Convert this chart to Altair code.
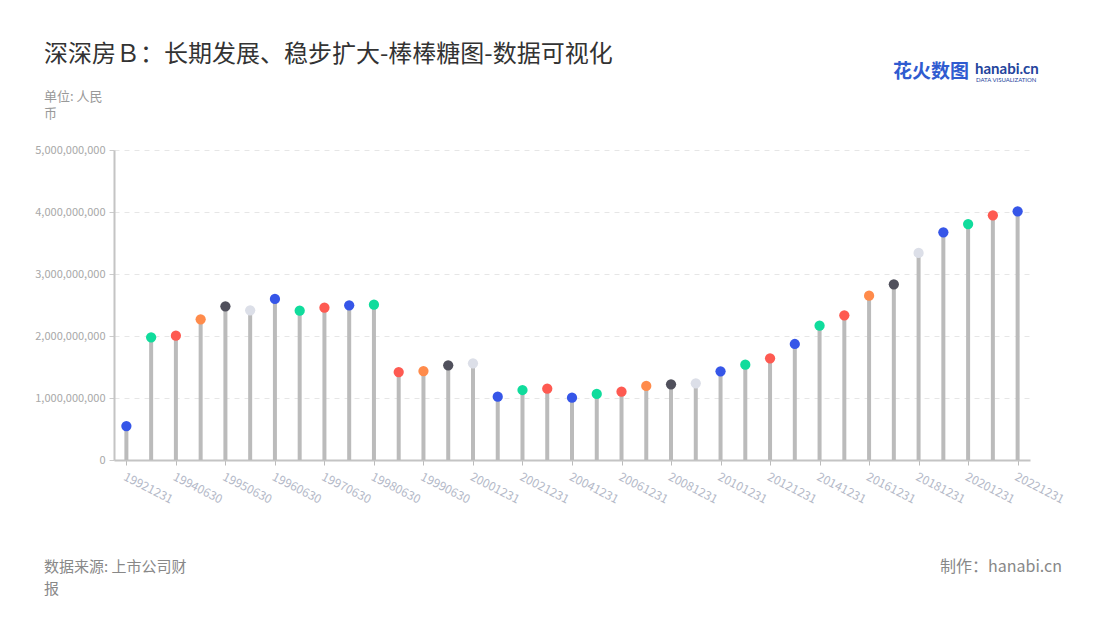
import altair as alt
import pandas as pd

categories = ["19921231", "19931231", "19940630", "19941231", "19950630", "19951231",
              "19960630", "19961231", "19970630", "19971231", "19980630", "19981231",
              "19990630", "19991231", "20001231", "20011231", "20021231", "20031231",
              "20041231", "20051231", "20061231", "20071231", "20081231", "20091231",
              "20101231", "20111231", "20121231", "20131231", "20141231", "20151231",
              "20161231", "20171231", "20181231", "20191231", "20201231", "20211231",
              "20221231"]
values = [548e6, 1979e6, 2005e6, 2270e6, 2479e6, 2414e6, 2597e6, 2409e6, 2457e6,
          2495e6, 2505e6, 1419e6, 1435e6, 1527e6, 1559e6, 1021e6, 1129e6, 1151e6,
          1005e6, 1065e6, 1102e6, 1194e6, 1221e6, 1237e6, 1430e6, 1538e6, 1640e6,
          1871e6, 2167e6, 2333e6, 2651e6, 2833e6, 3339e6, 3672e6, 3806e6, 3946e6,
          4011e6]
palette = ["#3656e8", "#10dc9c", "#fe5a51", "#ff8b4b", "#50505c", "#dcdfe8",
           "#3656e8", "#10dc9c", "#fe5a51"]
tick_labels = categories[::2]

df = pd.DataFrame({"date": categories, "value": values,
                   "cidx": [str(i % len(palette)) for i in range(len(categories))]})

FONT = "Noto Sans CJK SC"
W, H = 916, 310

xscale = alt.Scale(type="point", padding=0.5)
xenc = alt.X("date:N", sort=categories, scale=xscale,
             axis=alt.Axis(values=tick_labels, labelAngle=27, labelAlign="left",
                           labelBaseline="top", labelPadding=6, labelColor="#b4b9c8",
                           labelFontSize=12, labelFont=FONT, tickColor="#bbbbbb",
                           tickSize=5, domainColor="#c4c4c4", domainWidth=2,
                           title=None, grid=False, labelOverlap=False))
yenc = alt.Y("value:Q", scale=alt.Scale(domain=[0, 5e9], nice=False),
             axis=alt.Axis(values=[0, 1e9, 2e9, 3e9, 4e9, 5e9], format=",d",
                           labelColor="#a8a8a8", labelFontSize=11, labelFont=FONT,
                           tickColor="#cccccc", tickSize=5, domainColor="#c4c4c4",
                           domainWidth=2, gridColor="#e6e6e6", gridDash=[5, 5],
                           title=None, labelPadding=4))

base = alt.Chart(df)
stems = base.mark_rule(strokeWidth=4, color="#bbbbbb").encode(
    x=xenc, y=yenc, y2=alt.datum(0))
dots = base.mark_circle(size=105, opacity=1).encode(
    x=alt.X("date:N", sort=categories, scale=xscale),
    y="value:Q",
    color=alt.Color("cidx:N", scale=alt.Scale(domain=[str(i) for i in range(len(palette))],
                                              range=palette), legend=None))

one = pd.DataFrame({"k": [0]})

def txt(text, x, y, size, color, align="left", weight="normal", baseline="middle",
        font=FONT, lh=None):
    return alt.Chart(one).mark_text(text=text, align=align, baseline=baseline,
                                    fontSize=size, color=color, fontWeight=weight,
                                    font=font, lineBreak="\n",
                                    lineHeight=lh if lh else size + 4).encode(
        x=alt.value(x), y=alt.value(y))

title = txt("深深房Ｂ：长期发展、稳步扩大-棒棒糖图-数据可视化", -70, -95, 24, "#333333")
unit = txt("单位: 人民\n币", -70, -53, 13, "#999999", lh=17)
src = txt("数据来源: 上市公司财\n报", -70, 417, 15, "#888888", lh=22)
maker = txt("制作：hanabi.cn", 948, 417, 16, "#888888", align="right")
logo1 = txt("花火数图", 779, -78, 19, "#2f5bd0", weight="bold")
logo2 = txt("hanabi.cn", 861, -81, 15, "#24449c", weight="bold", font="Lato")
logo3 = txt("DATA VISUALIZATION", 862, -70, 6, "#24449c", font="Lato")

chart = alt.layer(stems, dots, title, unit, src, maker, logo1, logo2, logo3).properties(
    width=W, height=H,
    autosize=alt.AutoSizeParams(type="none"),
    padding={"left": 106, "top": 142, "right": 62, "bottom": 152},
).configure_view(stroke=None)

chart.save("out.html", embed_options={"renderer": "svg", "actions": False})
